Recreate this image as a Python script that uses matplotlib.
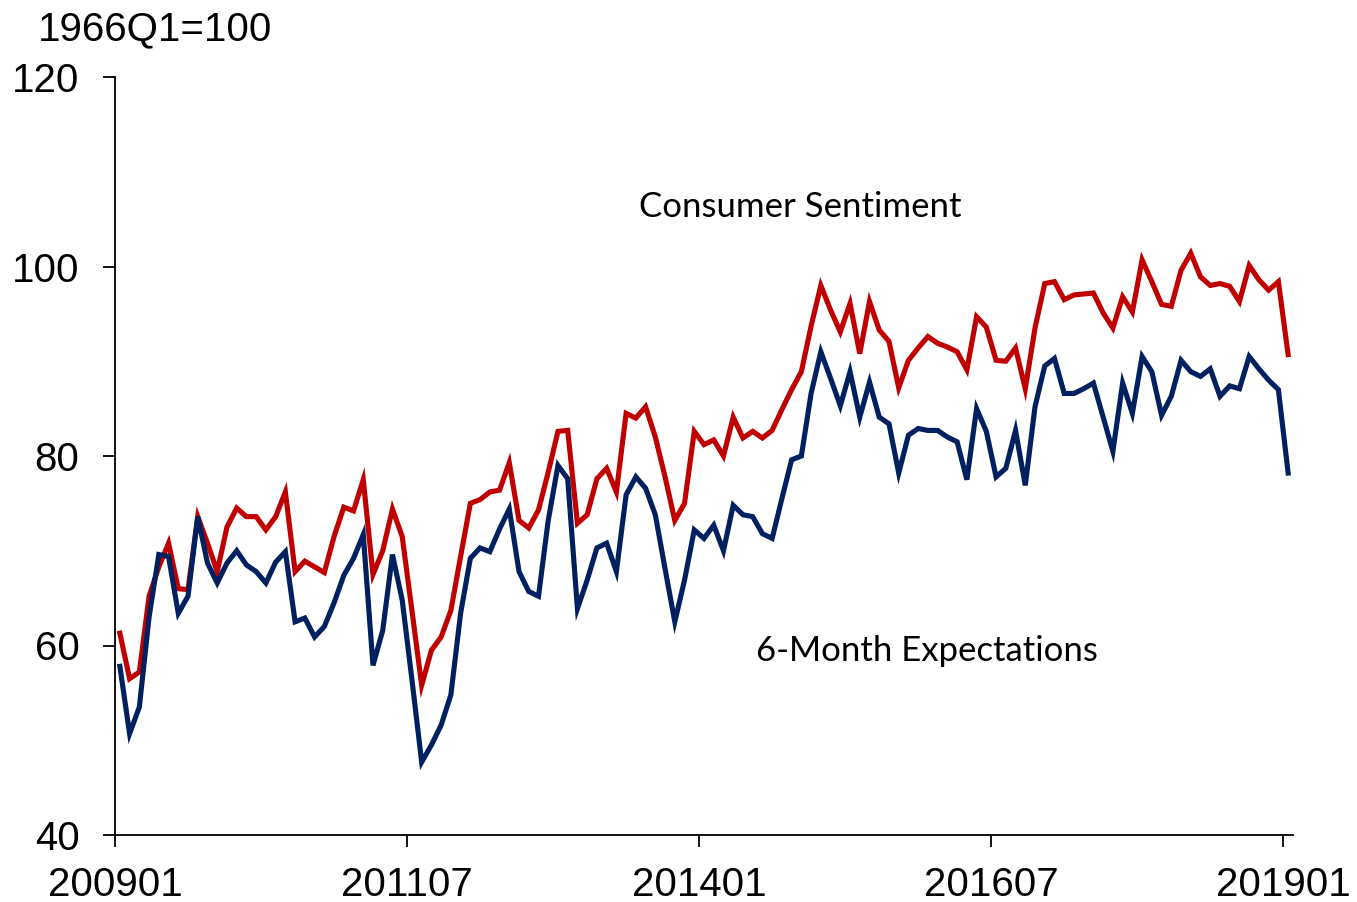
import numpy as np
import pandas as pd
import matplotlib
matplotlib.use("Agg")
import matplotlib.pyplot as plt

# ---- data (monthly, 2009-01 .. 2019-01) ----
months = [p.strftime("%Y%m") for p in pd.period_range("2009-01", "2019-01", freq="M")]

sentiment = [
    61.3, 56.5, 57.2, 65.2, 68.3, 70.8, 66.0, 65.9, 73.6, 70.8,
    67.8, 72.5, 74.5, 73.6, 73.6, 72.2, 73.6, 76.2, 67.8, 68.9,
    68.3, 67.7, 71.5, 74.6, 74.2, 77.5, 67.5, 70.0, 74.4, 71.5,
    63.7, 55.8, 59.5, 60.9, 63.7, 69.4, 75.0, 75.4, 76.2, 76.4,
    79.3, 73.2, 72.4, 74.3, 78.3, 82.6, 82.7, 72.9, 73.8, 77.6,
    78.7, 76.2, 84.5, 84.0, 85.2, 82.0, 77.8, 73.2, 75.0, 82.6,
    81.2, 81.7, 80.0, 84.1, 81.9, 82.6, 81.9, 82.7, 84.9, 87.0,
    88.9, 93.7, 98.0, 95.4, 93.1, 96.1, 90.8, 96.3, 93.3, 92.1,
    87.2, 90.1, 91.4, 92.6, 91.9, 91.5, 91.0, 89.1, 94.7, 93.6,
    90.1, 90.0, 91.4, 87.1, 93.5, 98.2, 98.4, 96.5, 97.0, 97.1,
    97.2, 95.1, 93.5, 96.8, 95.2, 100.7, 98.4, 96.0, 95.8, 99.6,
    101.4, 98.9, 98.0, 98.2, 97.9, 96.3, 100.1, 98.6, 97.5, 98.4,
    90.7,
]

expectations = [
    57.8, 50.7, 53.5, 63.0, 69.6, 69.4, 63.4, 65.2, 73.6, 68.7,
    66.6, 68.7, 70.0, 68.5, 67.8, 66.6, 68.8, 69.9, 62.5, 62.9,
    60.9, 62.0, 64.5, 67.4, 69.2, 71.7, 57.9, 61.6, 69.6, 64.8,
    56.4, 47.7, 49.5, 51.6, 54.8, 63.4, 69.2, 70.3, 69.9, 72.3,
    74.4, 67.8, 65.7, 65.2, 73.2, 79.0, 77.6, 63.9, 66.9, 70.3,
    70.8, 67.8, 75.9, 77.8, 76.6, 73.8, 68.1, 62.5, 66.9, 72.2,
    71.3, 72.7, 70.0, 74.8, 73.8, 73.6, 71.8, 71.3, 75.5, 79.6,
    80.0, 86.6, 91.0, 88.2, 85.3, 88.9, 84.1, 87.8, 84.1, 83.4,
    78.2, 82.2, 82.9, 82.7, 82.7, 82.0, 81.5, 77.5, 85.0, 82.6,
    77.8, 78.7, 82.7, 76.9, 85.2, 89.5, 90.3, 86.6, 86.6, 87.1,
    87.7, 84.1, 80.5, 87.7, 84.5, 90.5, 88.9, 84.3, 86.3, 90.1,
    88.9, 88.4, 89.2, 86.3, 87.4, 87.1, 90.5, 89.2, 88.0, 87.0,
    78.2,
]

x_tick_labels = ["200901", "201107", "201401", "201607", "201901"]
y_ticks = [40, 60, 80, 100, 120]
series_labels = ["Consumer Sentiment", "6-Month Expectations"]
unit_label = "1966Q1=100"

# ---- plot ----
W, H, DPI = 1357, 902, 100
fig = plt.figure(figsize=(W / DPI, H / DPI), dpi=DPI)
ax = fig.add_axes([115 / W, 1 - 835 / H, (1293 - 115) / W, (835 - 77) / H])

x = np.arange(len(months))
ax.plot(x, sentiment, color="#C00000", lw=3.7, solid_joinstyle="miter")
ax.plot(x, expectations, color="#002060", lw=3.7, solid_joinstyle="miter")

ax.set_xlim(-0.5, len(months) - 0.5)
ax.set_ylim(40, 120)

tick_pos = [months.index(lbl) - 0.5 for lbl in x_tick_labels]
ax.set_xticks(tick_pos)
ax.set_xticklabels(x_tick_labels)
ax.set_yticks(y_ticks)

tick_family = ["Liberation Sans", "DejaVu Sans"]
for lab in ax.get_xticklabels() + ax.get_yticklabels():
    lab.set_fontfamily(tick_family)
    lab.set_fontsize(29)

ax.tick_params(axis="both", direction="out", length=8.6, width=1.3, color="black")
ax.tick_params(axis="x", pad=14)
ax.tick_params(axis="y", pad=17)

for side in ["top", "right"]:
    ax.spines[side].set_visible(False)
for side in ["left", "bottom"]:
    ax.spines[side].set_linewidth(1.3)
    ax.spines[side].set_color("black")

label_font = ["Lato", "DejaVu Sans"]
ax.text(69.9, 106.3, series_labels[0], fontsize=25, family=label_font,
        ha="center", va="center", color="black")
ax.text(82.9, 59.4, series_labels[1], fontsize=25, family=label_font,
        ha="center", va="center", color="black")

fig.text(38 / W, 1 - 40 / H, unit_label, fontsize=29,
         family=tick_family, ha="left", va="baseline")

fig.savefig("out.png", dpi=DPI)
